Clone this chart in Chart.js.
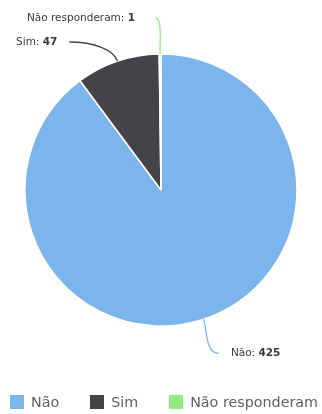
<!DOCTYPE html>
<html>
<head>
<meta charset="utf-8">
<script src="https://cdn.jsdelivr.net/npm/chart.js@4/dist/chart.umd.min.js"></script>
<style>
  html, body { margin: 0; padding: 0; background: #fff; }
  #wrap { width: 322px; height: 414px; position: relative; }
</style>
</head>
<body>
<div id="wrap"><canvas id="myChart"></canvas></div>
<script>
const categories = ['Não', 'Sim', 'Não responderam']
const answers = [425, 47, 1]
const colors = ['#7cb5ec', '#434348', '#90ed7d']

const FONT = "'DejaVu Sans', Verdana, sans-serif"

// outside labels with curved connectors, highcharts-like
const outsideLabels = {
  id: 'outsideLabels',
  afterDatasetsDraw(chart) {
    const { ctx } = chart
    const meta = chart.getDatasetMeta(0)
    const dist = 36
    const gap = 24
    const labels = meta.data.map((arc, i) => {
      const mid = (arc.startAngle + arc.endAngle) / 2
      const R = arc.outerRadius
      const side = Math.cos(mid) < 0 ? -1 : 1
      return {
        i, arc, mid, R, side,
        px: arc.x + R * Math.cos(mid),
        py: arc.y + R * Math.sin(mid),
        y: arc.y + (R + dist) * Math.sin(mid)
      }
    })
    ;[-1, 1].forEach(side => {
      const group = labels.filter(l => l.side === side).sort((a, b) => a.y - b.y)
      for (let k = 1; k < group.length; k++) {
        if (group[k].y - group[k - 1].y < gap) group[k].y = group[k - 1].y + gap
      }
    })

    ctx.save()
    labels.forEach(l => {
      const { arc } = l
      const rr = l.R + dist
      const dy = l.y - arc.y
      const dx = Math.sqrt(Math.max(rr * rr - dy * dy, 0)) + 4
      const ax = arc.x + l.side * dx
      const ay = l.y
      const tx = arc.x + l.side * Math.max(dx + 12, 26)

      // connector
      const k2 = Math.min(25, Math.abs(l.px - ax) * 0.7 + 3)
      ctx.beginPath()
      ctx.moveTo(l.px, l.py)
      ctx.bezierCurveTo(
        l.px + Math.cos(l.mid) * 12, l.py + Math.sin(l.mid) * 12,
        ax - l.side * k2, ay,
        ax, ay
      )
      ctx.strokeStyle = colors[l.i]
      ctx.lineWidth = 1.3
      ctx.stroke()

      // text: name regular, value bold
      const name = categories[l.i] + ': '
      const val = String(answers[l.i])
      ctx.textBaseline = 'middle'
      ctx.fillStyle = '#3a3a3a'
      ctx.font = '10.5px ' + FONT
      const wName = ctx.measureText(name).width
      ctx.font = 'bold 10.5px ' + FONT
      const wVal = ctx.measureText(val).width
      const x0 = l.side > 0 ? tx : tx - wName - wVal
      ctx.textAlign = 'left'
      ctx.font = '10.5px ' + FONT
      ctx.fillText(name, x0, ay)
      ctx.font = 'bold 10.5px ' + FONT
      ctx.fillText(val, x0 + wName, ay)
    })
    ctx.restore()
  }
}

// legend row at the bottom
const bottomLegend = {
  id: 'bottomLegend',
  afterDraw(chart) {
    const { ctx, width } = chart
    const box = 14
    const spacing = 31
    const y = 402
    ctx.save()
    ctx.font = '14.3px ' + FONT
    const widths = categories.map(c => box + 7 + ctx.measureText(c).width)
    const total = widths.reduce((a, b) => a + b, 0) + spacing * (categories.length - 1)
    let x = (width - total) / 2 + 3
    categories.forEach((c, i) => {
      ctx.fillStyle = colors[i]
      ctx.fillRect(Math.round(x), y - box / 2, box, box)
      ctx.fillStyle = '#606060'
      ctx.textBaseline = 'middle'
      ctx.textAlign = 'left'
      ctx.fillText(c, x + box + 7, y + 1)
      x += widths[i] + spacing
    })
    ctx.restore()
  }
}

new Chart(document.getElementById('myChart').getContext('2d'), {
  type: 'pie',
  data: {
    labels: categories,
    datasets: [
      {
        data: answers,
        backgroundColor: colors,
        borderColor: '#ffffff',
        borderWidth: 1.5,
        radius: 136
      }
    ]
  },
  options: {
    responsive: true,
    maintainAspectRatio: false,
    animation: false,
    layout: {
      padding: { top: 54, bottom: 88, left: 0, right: 0 }
    },
    plugins: {
      legend: { display: false },
      tooltip: { enabled: false }
    }
  },
  plugins: [outsideLabels, bottomLegend]
})
</script>
</body>
</html>
